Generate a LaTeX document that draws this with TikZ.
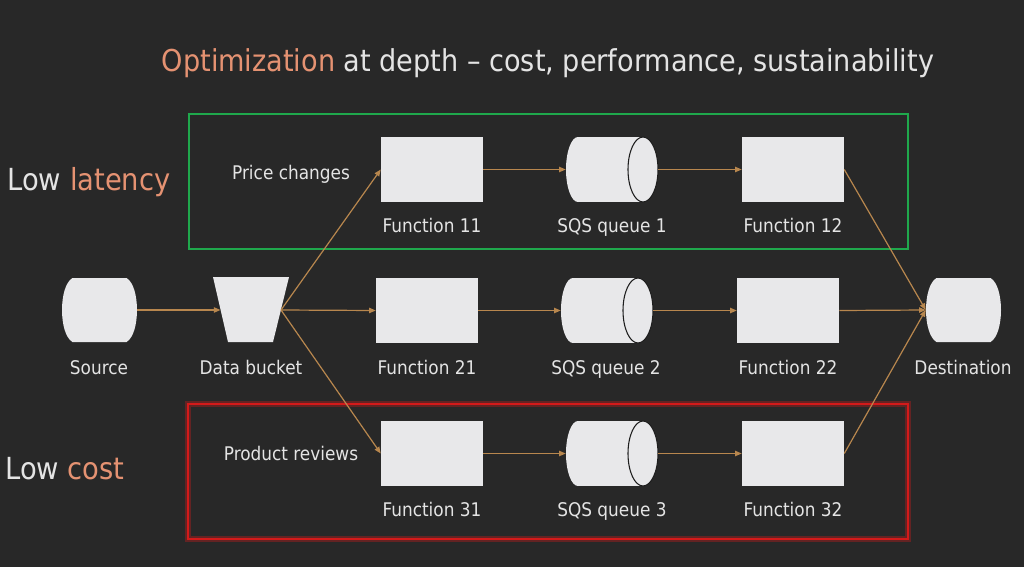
\documentclass[tikz,border=0pt]{standalone}
\usepackage{fontspec}
\IfFontExistsTF{DejaVu Sans Condensed}{\setmainfont{DejaVu Sans Condensed}}{\setmainfont{PT Sans}}
\usetikzlibrary{arrows.meta}
\definecolor{bg}{HTML}{282828}
\definecolor{txt}{HTML}{E4E4E4}
\definecolor{accent}{HTML}{E59272}
\definecolor{shapefill}{HTML}{E8E8EA}
\definecolor{flow}{HTML}{B8874E}
\definecolor{boxgreen}{HTML}{1FA84C}
\definecolor{boxred}{HTML}{D41A1A}
\definecolor{edgedark}{HTML}{1E1E1E}

\newcommand\queueshape[3]{%
  \node[ghost, minimum width=69pt, minimum height=48.75pt] (#1) at (#2,#3) {};
  \fill[shapefill] (#2-34,#3-32.5) rectangle (#2+31,#3+32.5);
  \fill[shapefill] (#2-34,#3) ellipse [x radius=12, y radius=32.5];
  \fill[shapefill] (#2+31,#3) ellipse [x radius=15, y radius=32.5];
  \draw[edgedark, line width=0.8pt] (#2+31,#3) ellipse [x radius=15, y radius=32.5];
}
\newcommand\barrelshape[3]{%
  \node[ghost, minimum width=56.25pt, minimum height=48pt] (#1) at (#2,#3) {};
  \fill[shapefill] (#2-27,#3-32) -- (#2+27,#3-32)
     .. controls (#2+41,#3-24) and (#2+41,#3+24) .. (#2+27,#3+32)
     -- (#2-27,#3+32)
     .. controls (#2-41,#3+24) and (#2-41,#3-24) .. (#2-27,#3-32) -- cycle;
}

\begin{document}
\begin{tikzpicture}[x=0.75pt,y=-0.75pt,
  ghost/.style={rectangle, inner sep=0pt, draw=none},
  func/.style={rectangle, fill=shapefill, minimum width=76.5pt, minimum height=48.75pt, inner sep=0pt},
  lbl/.style={text=txt, font=\fontsize{14.1}{17}\selectfont, inner sep=0pt, text height=10.3pt, text depth=3pt},
  big/.style={text=txt, inner sep=0pt},
  flowarrow/.style={draw=flow, line width=0.9pt, -{Triangle[length=5pt,width=4pt]}}
]
\fill[bg] (0,0) rectangle (1024,567);
\useasboundingbox (0,0) rectangle (1024,567);

% title and side labels
\node[big, font=\fontsize{22.6}{27}\selectfont] (title) at (548,63) {\textcolor{accent}{Optimization} at depth – cost, performance, sustainability};
\node[big, font=\fontsize{22.8}{27}\selectfont] (lowlat) at (89,182) {Low \textcolor{accent}{latency}};
\node[big, font=\fontsize{22.8}{27}\selectfont] (lowcost) at (65,469) {Low \textcolor{accent}{cost}};

% group boxes
\draw[boxgreen, line width=2.2pt] (189,114) rectangle (908,249);
\draw[boxred, opacity=0.35, line width=4.5pt] (188,404) rectangle (908,539);
\draw[boxred, line width=2pt] (188,404) rectangle (908,539);

\node[lbl] (pc) at (291,175) {Price changes};
\node[lbl] (pr) at (291,456) {Product reviews};

% source, bucket, destination
\barrelshape{src}{99.5}{310}
\barrelshape{dest}{963.5}{310}
\node[ghost, minimum width=57pt, minimum height=48.75pt] (bucket) at (251,310) {};
\fill[shapefill] (213,277) -- (289,277) -- (273,342) -- (228,342) -- cycle;
\coordinate (bucketL) at (220.5,310);
\coordinate (bucketR) at (281,310);

% functions
\node[func] (f11) at (432,169.5) {};
\node[func] (f12) at (793,169.5) {};
\node[func] (f21) at (427,310.5) {};
\node[func] (f22) at (788,310.5) {};
\node[func] (f31) at (432,453.5) {};
\node[func] (f32) at (793,453.5) {};

% queues
\queueshape{q1}{612}{169.5}
\queueshape{q2}{607}{310.5}
\queueshape{q3}{612}{453.5}

% labels
\node[lbl] at (432,228) {Function 11};
\node[lbl] at (612,228) {SQS queue 1};
\node[lbl] at (793,228) {Function 12};
\node[lbl] at (99,370) {Source};
\node[lbl] at (251,370) {Data bucket};
\node[lbl] at (427,370) {Function 21};
\node[lbl] at (606,370) {SQS queue 2};
\node[lbl] at (788,370) {Function 22};
\node[lbl] at (963,370) {Destination};
\node[lbl] at (432,512) {Function 31};
\node[lbl] at (612,512) {SQS queue 3};
\node[lbl] at (793,512) {Function 32};

% connectors
\draw[flowarrow] (src.east) -- (bucketL);
\draw[flowarrow] (bucketR) -- (f11.west);
\draw[flowarrow] (bucketR) -- (f21.west);
\draw[flowarrow] (bucketR) -- (f31.west);
\draw[flowarrow] (f11.east) -- (q1.west);
\draw[flowarrow] (q1.east) -- (f12.west);
\draw[flowarrow] (f21.east) -- (q2.west);
\draw[flowarrow] (q2.east) -- (f22.west);
\draw[flowarrow] (f31.east) -- (q3.west);
\draw[flowarrow] (q3.east) -- (f32.west);
\draw[flowarrow] (f12.east) -- (dest.west);
\draw[flowarrow] (f22.east) -- (dest.west);
\draw[flowarrow] (f32.east) -- (dest.west);
\end{tikzpicture}
\end{document}
